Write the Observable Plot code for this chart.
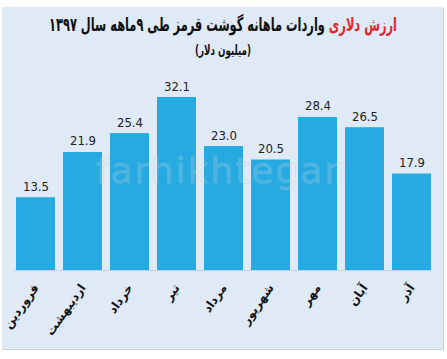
<!DOCTYPE html>
<html>
<head>
<meta charset="utf-8">
<script src="https://cdn.jsdelivr.net/npm/d3@7"></script>
<script src="https://cdn.jsdelivr.net/npm/@observablehq/plot@0.6"></script>
<style>
  html, body { margin: 0; padding: 0; background: #ffffff; }
  body { width: 447px; height: 359px; position: relative; overflow: hidden; font-family: "DejaVu Sans", sans-serif; }
  #panel { position: absolute; left: 2px; top: 7px; width: 441px; height: 342px; background: #dfeaf6; box-shadow: 1px 1px 0 #c8d0d8; }
  .line { position: absolute; left: 0; width: 100%; height: 26px; white-space: nowrap; }
  .line span.box { position: absolute; left: 50%; top: 0; display: inline-block; direction: rtl; white-space: nowrap; transform-origin: 50% 50%; transform: translateX(-50%); }
  #title { top: 6px; font-weight: bold; font-size: 19px; color: #111; }
  #title .red { color: #e3262d; }
  #subtitle { top: 35px; font-weight: bold; font-size: 14px; color: #111; }
  #chart { position: absolute; left: 0; top: 60px; }
  #wm { position: absolute; left: 0; top: 143px; width: 100%; text-align: center; font-size: 36px; letter-spacing: 2px; color: rgba(255,255,255,0.16); -webkit-text-stroke: 1px rgba(170,185,200,0.25); pointer-events: none; font-family: "DejaVu Sans", sans-serif; }
</style>
</head>
<body>
<div id="panel">
  <div id="title" class="line"><span class="box"></span></div>
  <div id="subtitle" class="line"><span class="box"></span></div>
  <div id="chart"></div>
  <div id="wm">farhikhtegan</div>
</div>
<script>
const titleRed = "ارزش دلاری";
const titleRest = "واردات ماهانه گوشت قرمز طی ۹ماهه سال ۱۳۹۷";
const subtitle = "(میلیون دلار)";
const months = ["فروردین", "اردیبهشت", "خرداد", "تیر", "مرداد", "شهریور", "مهر", "آبان", "آذر"];
const values = [13.5, 21.9, 25.4, 32.1, 23.0, 20.5, 28.4, 26.5, 17.9];

const data = months.map((m, i) => ({month: m, value: values[i]}));

const tBox = document.querySelector("#title .box");
const r = document.createElement("span");
r.className = "red";
r.textContent = titleRed;
tBox.appendChild(r);
tBox.appendChild(document.createTextNode(" " + titleRest));
const sBox = document.querySelector("#subtitle .box");
sBox.textContent = subtitle;

function fit(el, target) {
  const w = el.getBoundingClientRect().width;
  if (w > 0) el.style.transform = `translateX(-50%) scaleX(${target / w})`;
}
fit(tBox, 348);
fit(sBox, 56);

const chart = Plot.plot({
  width: 441,
  height: 280,
  marginTop: 30,
  marginBottom: 77,
  marginLeft: 12,
  marginRight: 11,
  style: { background: "transparent", fontFamily: "DejaVu Sans, sans-serif", overflow: "visible" },
  x: { domain: months, paddingInner: 0.18, paddingOuter: 0, label: null },
  y: { domain: [0, 32.1], axis: null },
  marks: [
    Plot.barY(data, { x: "month", y: "value", fill: "#27a9e1" }),
    Plot.ruleY([0], { stroke: "#c5d0da", strokeWidth: 1 }),
    Plot.text(data, { x: "month", y: "value", text: d => d.value.toFixed(1), dy: -7, lineAnchor: "bottom", fontSize: 13, fill: "#222", fontFamily: "Liberation Sans Narrow, DejaVu Sans Condensed, sans-serif" }),
    Plot.axisX({ tickSize: 0, tickPadding: 15, tickRotate: -55, fontSize: 12, fontWeight: "bold", fill: "#141414", label: null })
  ]
});
document.getElementById("chart").appendChild(chart);
</script>
</body>
</html>
